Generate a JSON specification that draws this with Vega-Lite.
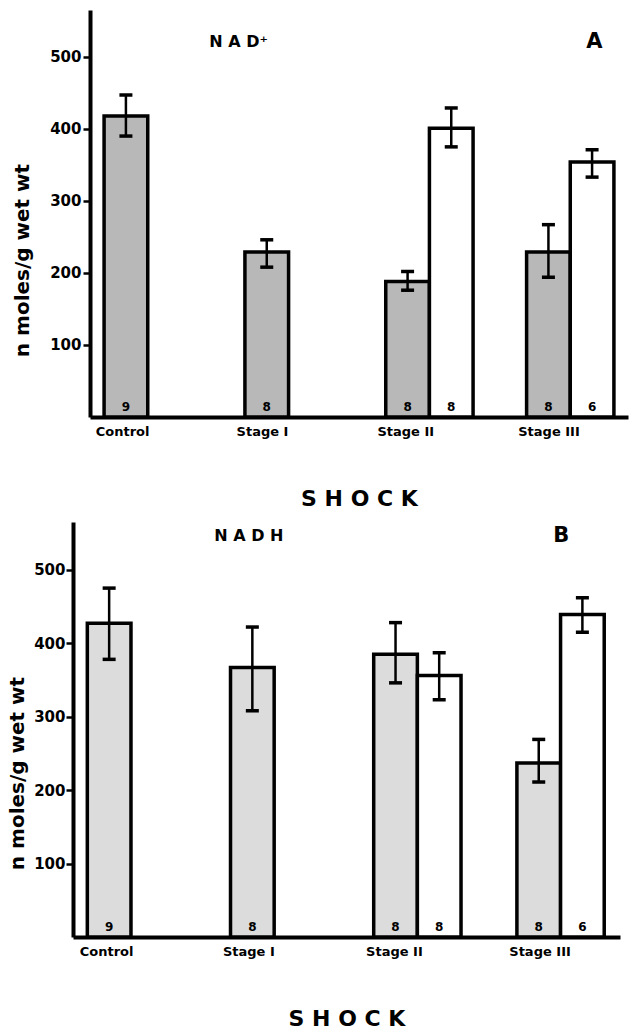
{
  "$schema": "https://vega.github.io/schema/vega-lite/v6.json",
  "background": "white",
  "padding": {"left": 7, "top": 10, "right": 5, "bottom": 5},
  "spacing": 13,
  "resolve": {"scale": {"fill": "independent"}},
  "config": {
    "view": {"stroke": null},
    "font": "DejaVu Sans",
    "axis": {"grid": false, "domainColor": "black", "domainWidth": 4, "labelColor": "black", "titleColor": "black", "labelFontWeight": "bold", "titleFontWeight": "bold", "tickColor": "black"}
  },
  "datasets": {
    "nad": [
      {"stage": "Control", "group": "shock", "value": 418, "lo": 390, "hi": 447, "n": "9"},
      {"stage": "Stage I", "group": "shock", "value": 229, "lo": 208, "hi": 246, "n": "8"},
      {"stage": "Stage II", "group": "shock", "value": 188, "lo": 176, "hi": 202, "n": "8"},
      {"stage": "Stage II", "group": "recovery", "value": 401, "lo": 375, "hi": 429, "n": "8"},
      {"stage": "Stage III", "group": "shock", "value": 229, "lo": 194, "hi": 267, "n": "8"},
      {"stage": "Stage III", "group": "recovery", "value": 354, "lo": 333, "hi": 371, "n": "6"}
    ],
    "nadh": [
      {"stage": "Control", "group": "shock", "value": 427, "lo": 378, "hi": 475, "n": "9"},
      {"stage": "Stage I", "group": "shock", "value": 367, "lo": 308, "hi": 422, "n": "8"},
      {"stage": "Stage II", "group": "shock", "value": 385, "lo": 346, "hi": 428, "n": "8"},
      {"stage": "Stage II", "group": "recovery", "value": 356, "lo": 323, "hi": 387, "n": "8"},
      {"stage": "Stage III", "group": "shock", "value": 237, "lo": 211, "hi": 269, "n": "8"},
      {"stage": "Stage III", "group": "recovery", "value": 439, "lo": 415, "hi": 462, "n": "6"}
    ]
  },
  "vconcat": [
    {
      "spacing": 0,
      "bounds": "flush",
      "hconcat": [
        {"width": 17, "height": 10, "data": {"values": []}, "mark": {"type": "text"}, "encoding": {}},
        {
          "width": 538,
          "height": 407,
          "data": {"name": "nad"},
          "encoding": {
            "x": {"field": "stage", "type": "nominal",
              "scale": {"domain": ["Control", "Stage I", "Stage II", "Stage III"], "paddingInner": 0.38, "paddingOuter": 0.1},
              "axis": {"title": "S H O C K", "labelAlign": "left", "labelOffset": -52, "labelAngle": 0, "labelFontSize": 13, "labelPadding": 8, "ticks": false, "titleFontSize": 22, "titlePadding": 50}}
          },
          "layer": [
            {
              "mark": {"type": "bar", "stroke": "black", "strokeWidth": 3.5},
              "encoding": {
                "xOffset": {"field": "group", "type": "nominal", "scale": {"domain": ["shock", "recovery"]}},
                "y": {"field": "value", "type": "quantitative", "scale": {"domain": [0, 565], "nice": false},
                  "axis": {"values": [100, 200, 300, 400, 500], "title": "n moles/g  wet wt", "titleFontSize": 20, "titleX": -58, "titleY": 250, "labelFontSize": 15, "tickSize": 7, "tickWidth": 2.5, "labelPadding": 2}},
                "fill": {"field": "group", "type": "nominal", "scale": {"domain": ["shock", "recovery"], "range": ["#b8b8b8", "white"]}, "legend": null}
              }
            },
            {
              "mark": {"type": "rule", "strokeWidth": 2.5, "color": "black"},
              "encoding": {
                "xOffset": {"field": "group", "type": "nominal"},
                "y": {"field": "lo", "type": "quantitative"}, "y2": {"field": "hi"}
              }
            },
            {
              "mark": {"type": "tick", "thickness": 3.5, "size": 13, "color": "black", "opacity": 1},
              "encoding": {"xOffset": {"field": "group", "type": "nominal"}, "y": {"field": "lo", "type": "quantitative"}}
            },
            {
              "mark": {"type": "tick", "thickness": 3.5, "size": 13, "color": "black", "opacity": 1},
              "encoding": {"xOffset": {"field": "group", "type": "nominal"}, "y": {"field": "hi", "type": "quantitative"}}
            },
            {
              "mark": {"type": "text", "baseline": "bottom", "dy": -3, "fontWeight": "bold", "fontSize": 12, "color": "black"},
              "encoding": {"xOffset": {"field": "group", "type": "nominal"}, "y": {"datum": 0}, "text": {"field": "n"}}
            },
            {
              "data": {"values": [{"label": "N A D⁺"}]},
              "mark": {"type": "text", "fontWeight": "bold", "fontSize": 16, "color": "black", "dx": -50},
              "encoding": {"x": {"datum": "Stage I"}, "y": {"datum": 520}, "text": {"field": "label"}}
            },
            {
              "data": {"values": [{"label": "A"}]},
              "mark": {"type": "text", "fontWeight": "bold", "fontSize": 21, "color": "black", "dx": 24},
              "encoding": {"x": {"datum": "Stage III"}, "y": {"datum": 520}, "text": {"field": "label"}}
            }
          ]
        }
      ]
    },
    {
      "width": 547,
      "height": 415,
      "data": {"name": "nadh"},
      "encoding": {
        "x": {"field": "stage", "type": "nominal",
          "scale": {"domain": ["Control", "Stage I", "Stage II", "Stage III"], "paddingInner": 0.38, "paddingOuter": 0.1},
          "axis": {"title": "S H O C K", "labelAlign": "left", "labelOffset": -52, "labelAngle": 0, "labelFontSize": 13, "labelPadding": 8, "ticks": false, "titleFontSize": 22, "titlePadding": 50}}
      },
      "layer": [
        {
          "mark": {"type": "bar", "stroke": "black", "strokeWidth": 3.5},
          "encoding": {
            "xOffset": {"field": "group", "type": "nominal", "scale": {"domain": ["shock", "recovery"]}},
            "y": {"field": "value", "type": "quantitative", "scale": {"domain": [0, 565], "nice": false},
              "axis": {"values": [100, 200, 300, 400, 500], "title": "n moles/g  wet wt", "titleFontSize": 20, "titleX": -46, "titleY": 251, "labelFontSize": 15, "tickSize": 7, "tickWidth": 2.5, "labelPadding": 1}},
            "fill": {"field": "group", "type": "nominal", "scale": {"domain": ["shock", "recovery"], "range": ["#dcdcdc", "white"]}, "legend": null}
          }
        },
        {
          "mark": {"type": "rule", "strokeWidth": 2.5, "color": "black"},
          "encoding": {
            "xOffset": {"field": "group", "type": "nominal"},
            "y": {"field": "lo", "type": "quantitative"}, "y2": {"field": "hi"}
          }
        },
        {
          "mark": {"type": "tick", "thickness": 3.5, "size": 13, "color": "black", "opacity": 1},
          "encoding": {"xOffset": {"field": "group", "type": "nominal"}, "y": {"field": "lo", "type": "quantitative"}}
        },
        {
          "mark": {"type": "tick", "thickness": 3.5, "size": 13, "color": "black", "opacity": 1},
          "encoding": {"xOffset": {"field": "group", "type": "nominal"}, "y": {"field": "hi", "type": "quantitative"}}
        },
        {
          "mark": {"type": "text", "baseline": "bottom", "dy": -3, "fontWeight": "bold", "fontSize": 12, "color": "black"},
          "encoding": {"xOffset": {"field": "group", "type": "nominal"}, "y": {"datum": 0}, "text": {"field": "n"}}
        },
        {
          "data": {"values": [{"label": "N A D H"}]},
          "mark": {"type": "text", "fontWeight": "bold", "fontSize": 16, "color": "black", "dx": -26},
          "encoding": {"x": {"datum": "Stage I"}, "y": {"datum": 546}, "text": {"field": "label"}}
        },
        {
          "data": {"values": [{"label": "B"}]},
          "mark": {"type": "text", "fontWeight": "bold", "fontSize": 21, "color": "black", "dx": 0},
          "encoding": {"x": {"datum": "Stage III"}, "y": {"datum": 546}, "text": {"field": "label"}}
        }
      ]
    }
  ]
}
